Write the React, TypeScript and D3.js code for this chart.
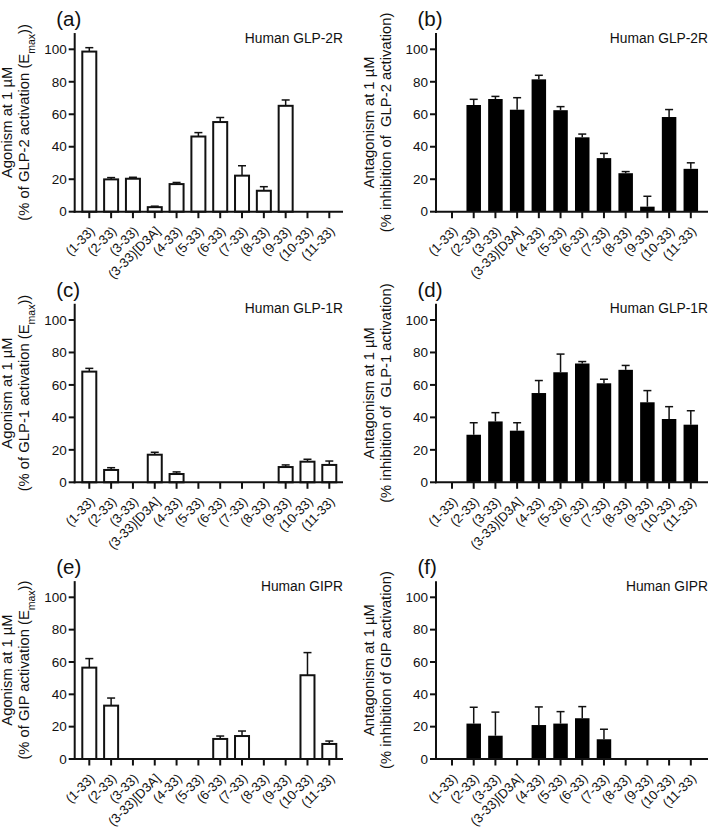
import React from "react";
import * as d3 from "d3";

const categories = ["(1-33)", "(2-33)", "(3-33)", "(3-33)[D3A]", "(4-33)", "(5-33)", "(6-33)", "(7-33)", "(8-33)", "(9-33)", "(10-33)", "(11-33)"];
const yTicks = [0, 20, 40, 60, 80, 100];

// (a) agonism at human GLP-2R
const glp2Agonism = [98.6, 19.9, 20.3, 2.8, 17.0, 46.3, 55.2, 22.2, 12.9, 65.2, null, null];
const glp2AgonismErr = [2.4, 1.1, 0.9, 0.6, 1.0, 2.4, 2.8, 6.1, 2.5, 3.6, 0, 0];
// (b) antagonism at human GLP-2R
const glp2Antagonism = [null, 65.7, 69.4, 62.8, 81.5, 62.5, 45.8, 33.0, 23.7, 3.1, 58.3, 26.4];
const glp2AntagonismErr = [0, 3.5, 1.6, 7.4, 2.5, 2.2, 2.0, 2.9, 1.0, 6.4, 4.6, 3.7];
// (c) agonism at human GLP-1R
const glp1Agonism = [68.2, 7.6, null, 17.0, 5.1, null, null, null, null, 9.4, 12.7, 10.7];
const glp1AgonismErr = [2.0, 1.4, 0, 1.5, 1.3, 0, 0, 0, 0, 1.3, 1.5, 2.4];
// (d) antagonism at human GLP-1R
const glp1Antagonism = [null, 29.3, 37.5, 31.8, 55.0, 67.8, 73.2, 61.0, 69.3, 49.3, 39.0, 35.5];
const glp1AntagonismErr = [0, 7.4, 5.4, 4.9, 7.7, 11.2, 1.2, 2.5, 2.7, 7.2, 7.6, 8.6];
// (e) agonism at human GIPR
const gipAgonism = [56.5, 33.0, null, null, null, null, 12.4, 14.2, null, null, 51.8, 9.3];
const gipAgonismErr = [5.6, 4.7, 0, 0, 0, 0, 1.8, 3.1, 0, 0, 14.0, 1.8];
// (f) antagonism at human GIPR
const gipAntagonism = [null, 21.9, 14.4, null, 21.0, 21.9, 25.2, 12.2, null, null, null, null];
const gipAntagonismErr = [0, 10.1, 14.6, 0, 11.2, 7.4, 7.2, 6.2, 0, 0, 0, 0];

const FONT = "'Liberation Sans', Arial, Helvetica, sans-serif";
const INK = "#111";

const cols = [
  { axisX: 74.7, axisEnd: 343, first: 89.3, last: 329.3 },
  { axisX: 436, axisEnd: 708, first: 452, last: 690.8 },
];
const rows = [
  { y0: 211.7, y100: 49.3 },
  { y0: 482.3, y100: 320 },
  { y0: 759, y100: 597.3 },
];

type Cfg = {
  label: string;
  receptor: string;
  title1: string;
  title2a: string;
  sub?: string;
  title2b?: string;
  values: (number | null)[];
  errors: number[];
  filled: boolean;
  col: number;
  row: number;
};

const panels: Cfg[] = [
  { label: "(a)", receptor: "Human GLP-2R", title1: "Agonism at 1 µM", title2a: "(% of GLP-2 activation (E", sub: "max", title2b: "))", values: glp2Agonism, errors: glp2AgonismErr, filled: false, col: 0, row: 0 },
  { label: "(b)", receptor: "Human GLP-2R", title1: "Antagonism at 1 µM", title2a: "(% inhibition of  GLP-2 activation)", values: glp2Antagonism, errors: glp2AntagonismErr, filled: true, col: 1, row: 0 },
  { label: "(c)", receptor: "Human GLP-1R", title1: "Agonism at 1 µM", title2a: "(% of GLP-1 activation (E", sub: "max", title2b: "))", values: glp1Agonism, errors: glp1AgonismErr, filled: false, col: 0, row: 1 },
  { label: "(d)", receptor: "Human GLP-1R", title1: "Antagonism at 1 µM", title2a: "(% inhibition of  GLP-1 activation)", values: glp1Antagonism, errors: glp1AntagonismErr, filled: true, col: 1, row: 1 },
  { label: "(e)", receptor: "Human GIPR", title1: "Agonism at 1 µM", title2a: "(% of GIP activation (E", sub: "max", title2b: "))", values: gipAgonism, errors: gipAgonismErr, filled: false, col: 0, row: 2 },
  { label: "(f)", receptor: "Human GIPR", title1: "Antagonism at 1 µM", title2a: "(% inhibition of GIP activation)", values: gipAntagonism, errors: gipAntagonismErr, filled: true, col: 1, row: 2 },
];

function Panel({ cfg }: { cfg: Cfg }) {
  const c = cols[cfg.col];
  const r = rows[cfg.row];
  const x = d3.scalePoint<string>().domain(categories).range([c.first, c.last]);
  const y = d3.scaleLinear().domain([0, 100]).range([r.y0, r.y100]);
  const yTop = y(110);
  const midY = (r.y0 + yTop) / 2;
  const barW = 14.5;
  const capW = 8;

  return (
    <g fontFamily={FONT} fill={INK}>
      {/* panel label */}
      <text x={c.axisX - 18.5} y={yTop - 7} fontSize={20.5}>{cfg.label}</text>
      {/* receptor */}
      <text x={c.axisEnd} y={r.y100 - 6.6} fontSize={13.8} textAnchor="end">{cfg.receptor}</text>
      {/* y title */}
      <text transform={`translate(${c.axisX - 62.3},${midY}) rotate(-90)`} fontSize={14.8} textAnchor="middle">{cfg.title1}</text>
      <text transform={`translate(${c.axisX - 45.5},${midY}) rotate(-90)`} fontSize={14.8} textAnchor="middle" style={{ whiteSpace: "pre" }}>
        {cfg.title2a}
        {cfg.sub ? <tspan fontSize={10.5} baselineShift="sub">{cfg.sub}</tspan> : null}
        {cfg.title2b ? <tspan>{cfg.title2b}</tspan> : null}
      </text>
      {/* bars */}
      {categories.map((cat, i) => {
        const v = cfg.values[i];
        if (v === null || v === undefined) return null;
        const e = cfg.errors[i];
        const cx = x(cat) as number;
        return (
          <g key={cat}>
            {e > 0 ? (
              <g stroke={INK} strokeWidth={1.5}>
                <line x1={cx} x2={cx} y1={y(v)} y2={y(v + e)} />
                <line x1={cx - capW / 2} x2={cx + capW / 2} y1={y(v + e)} y2={y(v + e)} />
              </g>
            ) : null}
            {cfg.filled ? (
              <rect x={cx - barW / 2} y={y(v)} width={barW} height={r.y0 - y(v)} fill="#000" />
            ) : (
              <rect x={cx - (barW - 0.5) / 2} y={y(v)} width={barW - 0.5} height={r.y0 - y(v)} fill="#fff" stroke={INK} strokeWidth={2} />
            )}
          </g>
        );
      })}
      {/* y axis */}
      <line x1={c.axisX} x2={c.axisX} y1={yTop} y2={r.y0 + 1} stroke={INK} strokeWidth={2} />
      {yTicks.map((t) => (
        <g key={t}>
          <line x1={c.axisX - 6} x2={c.axisX} y1={y(t)} y2={y(t)} stroke={INK} strokeWidth={2} />
          <text x={c.axisX - 8} y={y(t)} dy="0.35em" fontSize={13.5} textAnchor="end">{t}</text>
        </g>
      ))}
      {/* x axis */}
      <line x1={c.axisX - 1} x2={c.axisEnd} y1={r.y0} y2={r.y0} stroke={INK} strokeWidth={2} />
      {categories.map((cat) => {
        const cx = x(cat) as number;
        return (
          <g key={cat}>
            <line x1={cx} x2={cx} y1={r.y0} y2={r.y0 + 6.5} stroke={INK} strokeWidth={2} />
            <text transform={`translate(${cx + 3},${r.y0 + 17}) rotate(-45)`} dy="0.35em" fontSize={13} textAnchor="end">{cat}</text>
          </g>
        );
      })}
    </g>
  );
}

export default function App() {
  return (
    <svg width={709} height={831} style={{ position: "absolute", left: 0, top: 0, background: "#fff" }}>
      <rect width={709} height={831} fill="#fff" />
      {panels.map((p) => (
        <Panel key={p.label} cfg={p} />
      ))}
    </svg>
  );
}
